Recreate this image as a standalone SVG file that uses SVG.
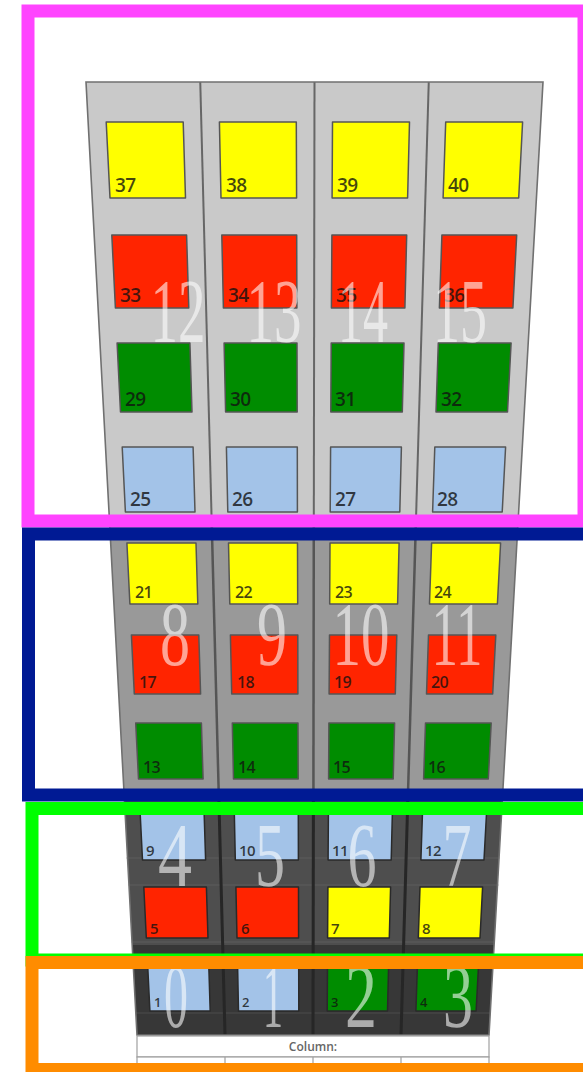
<svg xmlns="http://www.w3.org/2000/svg" width="583" height="1072" viewBox="0 0 583 1072">
<style>
.y{fill:#ffff00}.r{fill:#ff2400}.g{fill:#008c00}.b{fill:#a3c3e8}
.sq{stroke:#555;stroke-width:1.5;stroke-linejoin:round}
.dk .sq{stroke:#2a2a2a}
.lb{font-family:"Open Sans","DejaVu Sans",sans-serif;font-weight:600;letter-spacing:-0.6px;fill:#111;fill-opacity:0.78}
.t .lb{font-size:19px}.m .lb{font-size:16px}.l .lb{font-size:15px}.bt .lb{font-size:13px}
.big{font-family:"Liberation Serif","DejaVu Serif",serif;font-size:92px;fill:#fff;fill-opacity:0.58;text-anchor:middle}
.dv1{stroke:#666;stroke-width:2}
.dv3{stroke:#555;stroke-width:2.5}
.dv2{stroke:#262626;stroke-width:3}
.frame{fill:none;stroke-width:13}
</style>
<rect width="583" height="1072" fill="#fff"/>
<g id="building">
<polygon points="86,82 543,82 517.8,526 109.75,526" fill="#c9c9c9"/>
<polygon points="109.75,526 517.8,526 502.3,800 124.4,800" fill="#999"/>
<polygon points="124.4,800 502.3,800 494.1,945 132.2,945" fill="#4e4e4e"/>
<polygon points="132.2,945 494.1,945 489,1035 137,1035" fill="#373737"/>
<g opacity="0.35" stroke="#777" stroke-width="1">
<line x1="126" y1="858" x2="500" y2="858"/><line x1="128" y1="885" x2="499" y2="885"/><line x1="131" y1="942" x2="495" y2="942"/>
<line x1="135" y1="1013" x2="491" y2="1013"/>
</g>
<line class="dv1" x1="200.25" y1="82" x2="211.8" y2="526"/>
<line class="dv1" x1="314.5" y1="82" x2="313.8" y2="526"/>
<line class="dv1" x1="428.75" y1="82" x2="415.8" y2="526"/>
<line class="dv3" x1="211.8" y1="526" x2="218.9" y2="800"/>
<line class="dv3" x1="313.8" y1="526" x2="313.4" y2="800"/>
<line class="dv3" x1="415.8" y1="526" x2="407.8" y2="800"/>
<line class="dv2" x1="218.9" y1="800" x2="225" y2="1035"/>
<line class="dv2" x1="313.4" y1="800" x2="313" y2="1035"/>
<line class="dv2" x1="407.8" y1="800" x2="401" y2="1035"/>
<polygon points="86,82 543,82 489,1035 137,1035" fill="none" stroke="#707070" stroke-width="1.6"/>
</g>
<g id="cells">
<g class="t">
<g id="cell-37"><polygon class="sq y" points="106.2,122 183.2,122 185.5,198 110.0,198"/><text class="lb" x="115" y="192">37</text></g>
<g id="cell-38"><polygon class="sq y" points="219.4,122 296.3,122 296.6,198 221.0,198"/><text class="lb" x="226" y="192">38</text></g>
<g id="cell-39"><polygon class="sq y" points="332.5,122 409.5,122 407.6,198 332.1,198"/><text class="lb" x="337" y="192">39</text></g>
<g id="cell-40"><polygon class="sq y" points="445.7,122 522.6,122 518.7,198 443.1,198"/><text class="lb" x="448" y="192">40</text></g>
<g id="cell-33"><polygon class="sq r" points="111.8,235 186.6,235 188.8,308 115.4,308"/><text class="lb" x="120" y="302">33</text></g>
<g id="cell-34"><polygon class="sq r" points="221.8,235 296.7,235 296.9,308 223.4,308"/><text class="lb" x="228" y="302">34</text></g>
<g id="cell-35"><polygon class="sq r" points="331.9,235 406.7,235 404.9,308 331.4,308"/><text class="lb" x="336" y="302">35</text></g>
<g id="cell-36"><polygon class="sq r" points="441.9,235 516.7,235 512.9,308 439.4,308"/><text class="lb" x="444" y="302">36</text></g>
<g id="cell-29"><polygon class="sq g" points="117.1,343 189.9,343 192.0,412 120.5,412"/><text class="lb" x="125" y="406">29</text></g>
<g id="cell-30"><polygon class="sq g" points="224.1,343 297.0,343 297.2,412 225.6,412"/><text class="lb" x="230" y="406">30</text></g>
<g id="cell-31"><polygon class="sq g" points="331.2,343 404.0,343 402.3,412 330.8,412"/><text class="lb" x="335" y="406">31</text></g>
<g id="cell-32"><polygon class="sq g" points="438.3,343 511.1,343 507.5,412 436.0,412"/><text class="lb" x="441" y="406">32</text></g>
<g id="cell-25"><polygon class="sq b" points="122.2,447 193.1,447 195.0,512 125.4,512"/><text class="lb" x="130" y="506">25</text></g>
<g id="cell-26"><polygon class="sq b" points="226.4,447 297.3,447 297.4,512 227.8,512"/><text class="lb" x="232" y="506">26</text></g>
<g id="cell-27"><polygon class="sq b" points="330.6,447 401.4,447 399.8,512 330.2,512"/><text class="lb" x="335" y="506">27</text></g>
<g id="cell-28"><polygon class="sq b" points="434.8,447 505.6,447 502.2,512 432.6,512"/><text class="lb" x="437" y="506">28</text></g>
</g>
<g class="m">
<g id="cell-21"><polygon class="sq y" points="126.9,543 196.0,543 197.8,604 129.9,604"/><text class="lb" x="135" y="598">21</text></g>
<g id="cell-22"><polygon class="sq y" points="228.5,543 297.5,543 297.7,604 229.8,604"/><text class="lb" x="235" y="598">22</text></g>
<g id="cell-23"><polygon class="sq y" points="330.0,543 399.1,543 397.6,604 329.7,604"/><text class="lb" x="335" y="598">23</text></g>
<g id="cell-24"><polygon class="sq y" points="431.6,543 500.6,543 497.4,604 429.5,604"/><text class="lb" x="434" y="598">24</text></g>
<g id="cell-17"><polygon class="sq r" points="131.4,635 198.8,635 200.6,694 134.3,694"/><text class="lb" x="139" y="688">17</text></g>
<g id="cell-18"><polygon class="sq r" points="230.4,635 297.8,635 297.9,694 231.7,694"/><text class="lb" x="237" y="688">18</text></g>
<g id="cell-19"><polygon class="sq r" points="329.5,635 396.8,635 395.3,694 329.1,694"/><text class="lb" x="334" y="688">19</text></g>
<g id="cell-20"><polygon class="sq r" points="428.5,635 495.8,635 492.7,694 426.5,694"/><text class="lb" x="431" y="688">20</text></g>
<g id="cell-13"><polygon class="sq g" points="135.7,723 201.4,723 203.1,779 138.5,779"/><text class="lb" x="143" y="773">13</text></g>
<g id="cell-14"><polygon class="sq g" points="232.3,723 298.0,723 298.2,779 233.5,779"/><text class="lb" x="238" y="773">14</text></g>
<g id="cell-15"><polygon class="sq g" points="328.9,723 394.6,723 393.2,779 328.6,779"/><text class="lb" x="333" y="773">15</text></g>
<g id="cell-16"><polygon class="sq g" points="425.5,723 491.2,723 488.3,779 423.6,779"/><text class="lb" x="428" y="773">16</text></g>
</g>
<g class="l dk">
<g id="cell-9"><polygon class="sq b" points="140.1,812 204.1,812 205.6,860 142.5,860"/><text class="lb" x="146" y="856">9</text></g>
<g id="cell-10"><polygon class="sq b" points="234.3,812 298.3,812 298.4,860 235.3,860"/><text class="lb" x="239" y="856">10</text></g>
<g id="cell-11"><polygon class="sq b" points="328.4,812 392.4,812 391.2,860 328.1,860"/><text class="lb" x="332" y="856">11</text></g>
<g id="cell-12"><polygon class="sq b" points="422.5,812 486.6,812 484.0,860 420.9,860"/><text class="lb" x="425" y="856">12</text></g>
<g id="cell-5"><polygon class="sq r" points="143.8,887 206.4,887 208.0,938 146.3,938"/><text class="lb" x="150" y="934">5</text></g>
<g id="cell-6"><polygon class="sq r" points="235.9,887 298.5,887 298.6,938 237.0,938"/><text class="lb" x="241" y="934">6</text></g>
<g id="cell-7"><polygon class="sq y" points="327.9,887 390.6,887 389.3,938 327.6,938"/><text class="lb" x="331" y="934">7</text></g>
<g id="cell-8"><polygon class="sq y" points="420.0,887 482.6,887 480.0,938 418.3,938"/><text class="lb" x="422" y="934">8</text></g>
</g>
<g class="bt dk">
<g id="cell-1"><polygon class="sq b" points="147.7,966 208.8,966 210.2,1011 149.9,1011"/><text class="lb" x="154" y="1007">1</text></g>
<g id="cell-2"><polygon class="sq b" points="237.6,966 298.7,966 298.8,1011 238.5,1011"/><text class="lb" x="242" y="1007">2</text></g>
<g id="cell-3"><polygon class="sq g" points="327.5,966 388.6,966 387.5,1011 327.2,1011"/><text class="lb" x="331" y="1007">3</text></g>
<g id="cell-4"><polygon class="sq g" points="417.4,966 478.5,966 476.1,1011 415.9,1011"/><text class="lb" x="420" y="1007">4</text></g>
</g>
</g>
<g id="column-numbers">
<text class="big" x="178" y="342" textLength="55" lengthAdjust="spacingAndGlyphs">12</text>
<text class="big" x="274" y="342" textLength="55" lengthAdjust="spacingAndGlyphs">13</text>
<text class="big" x="363" y="342" textLength="50" lengthAdjust="spacingAndGlyphs">14</text>
<text class="big" x="460" y="342" textLength="54" lengthAdjust="spacingAndGlyphs">15</text>
<text class="big" x="175" y="665" textLength="30" lengthAdjust="spacingAndGlyphs">8</text>
<text class="big" x="272" y="665" textLength="30" lengthAdjust="spacingAndGlyphs">9</text>
<text class="big" x="361" y="665" textLength="57" lengthAdjust="spacingAndGlyphs">10</text>
<text class="big" x="457" y="665" textLength="51" lengthAdjust="spacingAndGlyphs">11</text>
<text class="big" x="175" y="886" textLength="34" lengthAdjust="spacingAndGlyphs">4</text>
<text class="big" x="270" y="886" textLength="30" lengthAdjust="spacingAndGlyphs">5</text>
<text class="big" x="362" y="886" textLength="29" lengthAdjust="spacingAndGlyphs">6</text>
<text class="big" x="457" y="886" textLength="29" lengthAdjust="spacingAndGlyphs">7</text>
<text class="big" x="176" y="1027" textLength="24" lengthAdjust="spacingAndGlyphs">0</text>
<text class="big" x="273" y="1027" textLength="20" lengthAdjust="spacingAndGlyphs">1</text>
<text class="big" x="361" y="1027" textLength="32" lengthAdjust="spacingAndGlyphs">2</text>
<text class="big" x="458" y="1027" textLength="30" lengthAdjust="spacingAndGlyphs">3</text>
</g>
<g id="column-header">
<rect x="137" y="1036" width="352" height="21" fill="#fff" stroke="#a0a0a0" stroke-width="1.2"/>
<text x="313" y="1051" text-anchor="middle" font-family="Open Sans, DejaVu Sans, sans-serif" font-size="12" font-weight="600" fill="#666">Column:</text>
<rect x="137" y="1057" width="352" height="20" fill="#fff" stroke="#a0a0a0" stroke-width="1.2"/>
<g stroke="#a0a0a0" stroke-width="1.2"><line x1="225" y1="1057" x2="225" y2="1072"/><line x1="313" y1="1057" x2="313" y2="1072"/><line x1="401" y1="1057" x2="401" y2="1072"/></g>
</g>
<g id="connectors"/>
<g id="frames">
<rect class="frame" x="28" y="11" width="556" height="510" stroke="#ff44ff"/>
<rect class="frame" x="28.5" y="534" width="600" height="261" stroke="#001a94"/>
<rect class="frame" x="32" y="808.5" width="600" height="151.5" stroke="#00ff00"/>
<rect class="frame" x="32" y="962.5" width="600" height="107" stroke="#ff8c00"/>
</g>
</svg>
